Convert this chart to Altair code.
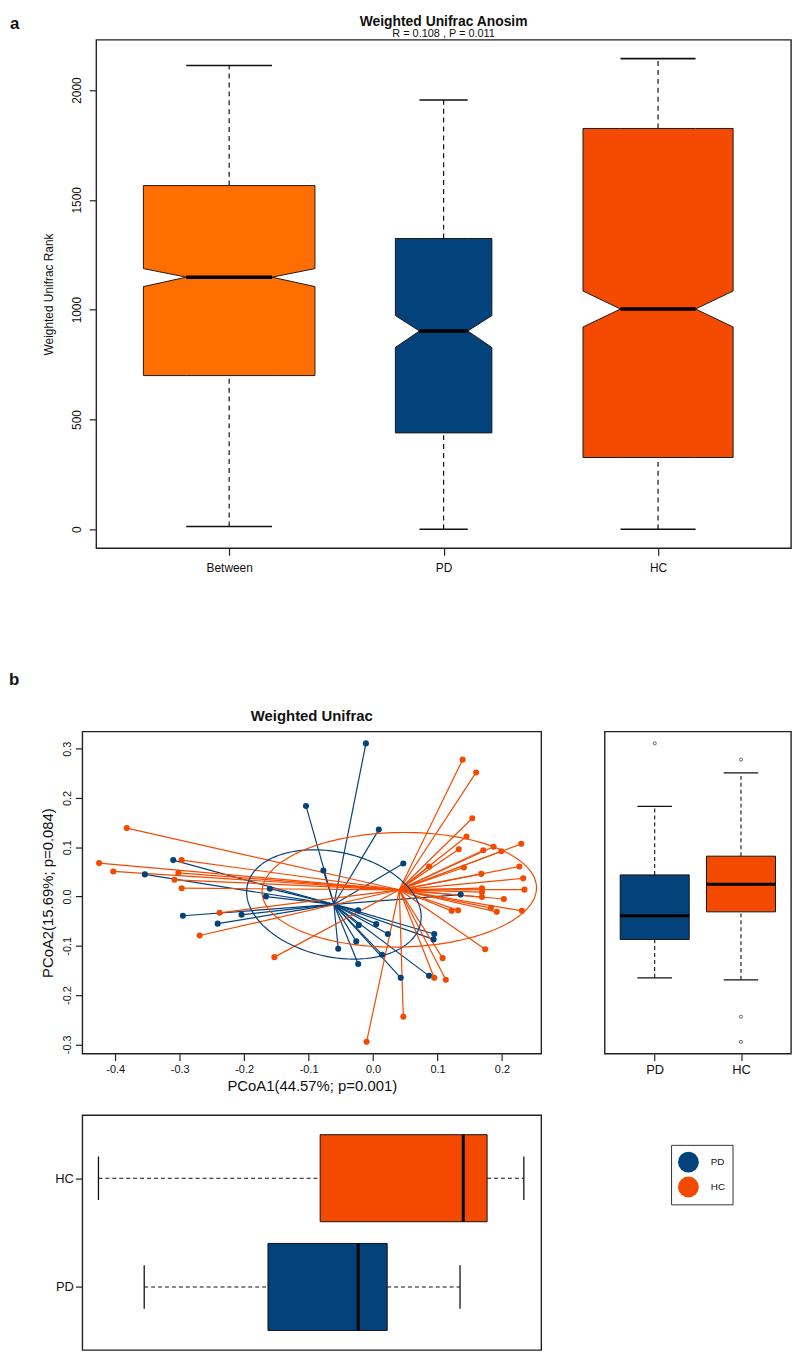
import altair as alt
import numpy as np
import pandas as pd

FONT = "Liberation Sans"
BLUE = "#04427B"
ORANGE_BETWEEN = "#FF6E00"
ORANGE_HC = "#F44A00"

# ---------------- panel a : Weighted Unifrac Anosim ----------------
a_groups = ["Between", "PD", "HC"]
a_pos = [1, 2, 3]
a_min = [13, 0, 0]
a_q1 = [700, 439, 327]
a_notch_lo = [1105, 828, 921]
a_median = [1148, 903, 1003]
a_notch_hi = [1187, 973, 1085]
a_q3 = [1565, 1324, 1825]
a_max = [2112, 1955, 2143]
a_boxwidth = [0.80, 0.45, 0.70]
a_colors = [ORANGE_BETWEEN, BLUE, ORANGE_HC]
a_yticks = [0, 500, 1000, 1500, 2000]
a_title = "Weighted Unifrac Anosim"
a_subtitle = "R =  0.108 ,  P =  0.011"

# ---------------- panel b : PCoA ----------------
b_title = "Weighted Unifrac"
b_groups = ["PD", "HC"]
b_colors = [BLUE, ORANGE_HC]
pd_x = [-0.354, -0.310, -0.104, -0.160, -0.166, -0.295, -0.204, -0.241, -0.011, 0.009,
        0.047, -0.077, 0.136, -0.023, 0.005, -0.022, 0.023, 0.095, 0.094, -0.026,
        -0.054, 0.014, -0.023, 0.043, 0.087]
pd_y = [0.045, 0.074, 0.184, 0.016, 0.000, -0.039, -0.037, -0.055, 0.311, 0.136,
        0.067, 0.053, 0.004, -0.028, -0.056, -0.058, -0.076, -0.076, -0.087, -0.091,
        -0.106, -0.118, -0.137, -0.165, -0.161]
hc_x = [-0.382, -0.425, -0.403, -0.297, -0.302, -0.308, -0.297, -0.238, -0.269, -0.153,
        0.139, 0.160, 0.154, 0.145, 0.133, 0.171, 0.187, 0.199, 0.230, 0.087,
        0.141, 0.168, 0.227, 0.233, 0.235, 0.169, 0.169, 0.169, 0.203, 0.122,
        0.132, 0.183, 0.192, 0.231, 0.095, 0.113, 0.108, 0.174, 0.047, -0.010]
hc_y = [0.139, 0.068, 0.051, 0.074, 0.048, 0.034, 0.017, -0.033, -0.079, -0.123,
        0.278, 0.252, 0.159, 0.122, 0.096, 0.094, 0.101, 0.092, 0.107, 0.061,
        0.059, 0.046, 0.061, 0.037, 0.014, 0.017, 0.009, -0.001, -0.005, -0.029,
        -0.028, -0.023, -0.031, -0.029, -0.165, -0.169, -0.125, -0.107, -0.244, -0.295]

# PCoA2 boxplot (right)
pc2_pos = [1, 2]
pc2_min = [-0.165, -0.169]
pc2_q1 = [-0.087, -0.031]
pc2_median = [-0.039, 0.025]
pc2_q3 = [0.044, 0.082]
pc2_max = [0.183, 0.251]
pc2_out_pos = [1, 2, 2, 2]
pc2_out_value = [0.311, 0.278, -0.244, -0.295]

# PCoA1 boxplot (bottom)
pc1_pos = [1, 2]
pc1_min = [-0.355, -0.426]
pc1_q1 = [-0.163, -0.082]
pc1_median = [-0.023, 0.140]
pc1_q3 = [0.022, 0.177]
pc1_max = [0.135, 0.234]

box_w = 0.8
x_ticks = [-0.4, -0.3, -0.2, -0.1, 0.0, 0.1, 0.2]
y_ticks = [-0.3, -0.2, -0.1, 0.0, 0.1, 0.2, 0.3]
X_DOMAIN = [-0.451, 0.261]
Y_DOMAIN = [-0.319, 0.335]
ELLIPSE_SD = 1.0

WA, HA = 701, 513     # panel a plot size
WB, HB = 463, 325     # scatter size
WR = 188              # right box width
HC_ = 237             # bottom box height
ONE = pd.DataFrame({"d": [0]})


def spacer_rule(x, x2, y, y2):
    """invisible rule, only used to reserve layout room"""
    return alt.Chart(ONE).mark_rule(opacity=0, strokeOpacity=0).encode(
        x=alt.value(x), x2=alt.value(x2), y=alt.value(y), y2=alt.value(y2))


def label(text, x, y, size, bold=True, align="left"):
    return alt.Chart(pd.DataFrame({"t": [text]})).mark_text(
        align=align, baseline="alphabetic", fontSize=size,
        fontWeight="bold" if bold else "normal", color="#111").encode(
        text="t:N", x=alt.value(x), y=alt.value(y))


# ---------------- build panel a ----------------
a_df = pd.DataFrame(dict(group=a_groups, pos=a_pos, lo=a_min, q1=a_q1, nlo=a_notch_lo,
                         med=a_median, nhi=a_notch_hi, q3=a_q3, hi=a_max, w=a_boxwidth))
a_df["cl"] = a_df.pos - a_df.w / 4
a_df["cr"] = a_df.pos + a_df.w / 4

halves = []
for _, s in a_df.iterrows():
    xs = [s.pos - s.w / 2, s.cl, s.cr, s.pos + s.w / 2]
    low_top = [s.nlo, s.med, s.med, s.nlo]
    up_bot = [s.nhi, s.med, s.med, s.nhi]
    for xv, t in zip(xs, low_top):
        halves.append(dict(group=s.group, part=s.group + "_lo", x=xv, y=s.q1, y2=t))
    for xv, b in zip(xs, up_bot):
        halves.append(dict(group=s.group, part=s.group + "_hi", x=xv, y=b, y2=s.q3))
halves = pd.DataFrame(halves)

wh = pd.concat([
    a_df.assign(y1=a_df.q3, y2=a_df.hi, cap=a_df.hi),
    a_df.assign(y1=a_df.lo, y2=a_df.q1, cap=a_df.lo)])

xs_a = alt.Scale(domain=[0.38, 3.62], nice=False, zero=False)
ys_a = alt.Scale(domain=[-86, 2229], nice=False, zero=False)
lab_a = "[" + ",".join("'%s'" % g for g in a_groups) + "][datum.value - 1]"

ax_a_x = alt.Axis(values=a_pos, labelExpr=lab_a, title=None, labelFontSize=12, labelPadding=8)
ax_a_y = alt.Axis(values=a_yticks, format="d", title="Weighted Unifrac Rank", labelAngle=270,
                  labelAlign="center", labelBaseline="bottom", labelFontSize=12,
                  labelPadding=6, titleFontSize=12, titlePadding=15)

whisk_a = alt.Chart(wh).mark_rule(color="#111", strokeWidth=1.2, strokeDash=[5, 4]).encode(
    x=alt.X("pos:Q", scale=xs_a, axis=ax_a_x),
    y=alt.Y("y1:Q", scale=ys_a, axis=ax_a_y),
    y2="y2:Q",
)
caps_a = alt.Chart(wh).mark_rule(color="#111", strokeWidth=1.6).encode(
    x="cl:Q", x2="cr:Q", y="cap:Q")
boxes_a = alt.Chart(halves).mark_area(stroke="#1a1a1a", strokeWidth=1, opacity=1,
                                      interpolate="linear").encode(
    x="x:Q",
    y=alt.Y("y:Q", stack=None),
    y2="y2:Q",
    fill=alt.Fill("group:N", scale=alt.Scale(domain=a_groups, range=a_colors), legend=None),
    detail="part:N",
)
med_a = alt.Chart(a_df).mark_rule(color="black", strokeWidth=3.5).encode(
    x="cl:Q", x2="cr:Q", y="med:Q")

panel_a = alt.layer(
    whisk_a, boxes_a, med_a, caps_a,
    label("a", -87, -11, 17),
    label(a_title, WA / 2, -14, 14, align="center"),
    label(a_subtitle, WA / 2, -3, 11, bold=False, align="center"),
    spacer_rule(0, 0, HA, HA + 40),
).properties(width=WA, height=HA)

spacer = alt.Chart(ONE).mark_rule(opacity=0, strokeOpacity=0).encode(
    x=alt.value(0), y=alt.value(0)).properties(
    width=1, height=1, view=alt.ViewBackground(stroke=None))

# ---------------- build panel b : scatter ----------------
pts = pd.DataFrame(dict(group=["PD"] * len(pd_x) + ["HC"] * len(hc_x),
                        x=pd_x + hc_x, y=pd_y + hc_y))
cent = pts.groupby("group")[["x", "y"]].mean().rename(columns={"x": "cx", "y": "cy"})
pts = pts.join(cent, on="group")

ell = []
for g in b_groups:
    sub = pts[pts.group == g]
    X = np.column_stack([sub.x.values, sub.y.values])
    mu = X.mean(axis=0)
    vals, vecs = np.linalg.eigh(np.cov(X, rowvar=False))
    t = np.linspace(0, 2 * np.pi, 181)
    circ = np.stack([np.cos(t), np.sin(t)])
    e = (vecs @ (np.sqrt(vals)[:, None] * circ)).T * ELLIPSE_SD + mu
    for k, (ex, ey) in enumerate(e):
        ell.append(dict(group=g, k=k, ex=ex, ey=ey))
ell = pd.DataFrame(ell)

cscale = alt.Scale(domain=b_groups, range=b_colors)
xs_b = alt.Scale(domain=X_DOMAIN, nice=False, zero=False)
ys_b = alt.Scale(domain=Y_DOMAIN, nice=False, zero=False)
num_expr = "datum.value < 0 ? '-' + format(-datum.value, '.1f') : format(datum.value, '.1f')"

ax_b_x = alt.Axis(values=x_ticks, labelExpr=num_expr, title="PCoA1(44.57%; p=0.001)",
                  labelFontSize=11, labelPadding=3, titleFontSize=15, titlePadding=4)
ax_b_y = alt.Axis(values=y_ticks, labelExpr=num_expr, title="PCoA2(15.69%; p=0.084)",
                  labelAngle=270, labelAlign="center", labelBaseline="bottom",
                  labelFontSize=11, labelPadding=3, titleFontSize=15, titlePadding=6)

spider = alt.Chart(pts).mark_rule(strokeWidth=1.2).encode(
    x=alt.X("x:Q", scale=xs_b, axis=ax_b_x),
    y=alt.Y("y:Q", scale=ys_b, axis=ax_b_y),
    x2="cx:Q", y2="cy:Q",
    color=alt.Color("group:N", scale=cscale, legend=None),
)
ellipse = alt.Chart(ell).mark_line(strokeWidth=1.2).encode(
    x="ex:Q", y="ey:Q", order="k:Q", detail="group:N",
    color=alt.Color("group:N", scale=cscale, legend=None),
)
dots = alt.Chart(pts).mark_circle(size=38, opacity=1).encode(
    x="x:Q", y="y:Q", color=alt.Color("group:N", scale=cscale, legend=None))

scatter = alt.layer(
    spider, ellipse, dots,
    label("b", -74, -47, 17),
    label(b_title, WB / 2, -11, 15, align="center"),
    spacer_rule(0, 0, -70, 0), spacer_rule(0, 0, HB, HB + 55),
).properties(width=WB, height=HB)

# ---------------- right box (PCoA2) ----------------
r_df = pd.DataFrame(dict(group=b_groups, pos=pc2_pos, lo=pc2_min, q1=pc2_q1, med=pc2_median,
                         q3=pc2_q3, hi=pc2_max))
r_df["l"] = r_df.pos - box_w / 2
r_df["r"] = r_df.pos + box_w / 2
r_df["cl"] = r_df.pos - box_w / 4
r_df["cr"] = r_df.pos + box_w / 4
r_wh = pd.concat([
    r_df.assign(y1=r_df.q3, y2=r_df.hi, cap=r_df.hi),
    r_df.assign(y1=r_df.lo, y2=r_df.q1, cap=r_df.lo)])
out_df = pd.DataFrame(dict(pos=pc2_out_pos, v=pc2_out_value))

xs_box = alt.Scale(domain=[0.42, 2.58], nice=False, zero=False)
lab_b = "[" + ",".join("'%s'" % g for g in b_groups) + "][datum.value - 1]"

r_whisk = alt.Chart(r_wh).mark_rule(color="#111", strokeWidth=1.1, strokeDash=[4, 3]).encode(
    x=alt.X("pos:Q", scale=xs_box,
            axis=alt.Axis(values=pc2_pos, labelExpr=lab_b, title=None, labelFontSize=13,
                          labelPadding=3)),
    y=alt.Y("y1:Q", scale=ys_b, axis=None), y2="y2:Q")
r_caps = alt.Chart(r_wh).mark_rule(color="#111", strokeWidth=1.3).encode(
    x="cl:Q", x2="cr:Q", y="cap:Q")
r_box = alt.Chart(r_df).mark_bar(stroke="#111", strokeWidth=1, opacity=1).encode(
    x="l:Q", x2="r:Q", y="q1:Q", y2="q3:Q",
    color=alt.Color("group:N", scale=cscale, legend=None))
r_med = alt.Chart(r_df).mark_rule(color="black", strokeWidth=3).encode(
    x="l:Q", x2="r:Q", y="med:Q")
r_out = alt.Chart(out_df).mark_point(shape="circle", size=10, filled=False, color="#222",
                                     strokeWidth=1).encode(x="pos:Q", y="v:Q")
right_box = alt.layer(
    r_whisk, r_box, r_med, r_caps, r_out, spacer_rule(0, 0, -70, 0)
).properties(width=WR, height=HB)

# ---------------- bottom box (PCoA1) ----------------
bt_df = pd.DataFrame(dict(group=b_groups, pos=pc1_pos, lo=pc1_min, q1=pc1_q1, med=pc1_median,
                          q3=pc1_q3, hi=pc1_max))
bt_df["b"] = bt_df.pos - box_w / 2
bt_df["t"] = bt_df.pos + box_w / 2
bt_df["cb"] = bt_df.pos - box_w / 4
bt_df["ct"] = bt_df.pos + box_w / 4
bt_wh = pd.concat([
    bt_df.assign(x1=bt_df.q3, x2=bt_df.hi, cap=bt_df.hi),
    bt_df.assign(x1=bt_df.lo, x2=bt_df.q1, cap=bt_df.lo)])

b_whisk = alt.Chart(bt_wh).mark_rule(color="#111", strokeWidth=1.1, strokeDash=[4, 3]).encode(
    y=alt.Y("pos:Q", scale=xs_box,
            axis=alt.Axis(values=pc1_pos, labelExpr=lab_b, title=None, labelFontSize=13,
                          labelPadding=2)),
    x=alt.X("x1:Q", scale=xs_b, axis=None), x2="x2:Q")
b_caps = alt.Chart(bt_wh).mark_rule(color="#111", strokeWidth=1.3).encode(
    y="cb:Q", y2="ct:Q", x="cap:Q")
b_box = alt.Chart(bt_df).mark_bar(stroke="#111", strokeWidth=1, opacity=1).encode(
    y="b:Q", y2="t:Q", x="q1:Q", x2="q3:Q",
    color=alt.Color("group:N", scale=cscale,
                    legend=alt.Legend(orient="none", legendX=594, legendY=30, title=None,
                                      symbolType="circle", symbolSize=441,
                                      symbolStrokeWidth=0, symbolOpacity=1,
                                      labelFontSize=10, labelOffset=12, padding=7,
                                      rowPadding=4, strokeColor="#333",
                                      fillColor="white", labelColor="#111")))
b_med = alt.Chart(bt_df).mark_rule(color="black", strokeWidth=3).encode(
    y="b:Q", y2="t:Q", x="med:Q")
bottom_box = alt.layer(b_whisk, b_box, b_med, b_caps).properties(width=WB, height=HC_)

# ---------------- assemble ----------------
row1 = alt.hconcat(spacer, panel_a, spacing=-75)
row2 = alt.hconcat(scatter, right_box, spacing=62).resolve_legend(color="independent")
lower = alt.vconcat(row2, bottom_box, spacing=5).resolve_legend(color="independent")
chart = alt.vconcat(row1, lower, spacing=73).resolve_legend(
    color="independent").properties(padding=0).configure(font=FONT).configure_view(
    stroke="#222222", strokeWidth=1.4).configure_axis(
    domain=False, grid=False, tickColor="#222", tickSize=7, tickWidth=1.2,
    labelColor="#111", titleColor="#111", labelFont=FONT, titleFont=FONT,
    titleFontWeight="normal")

chart.save("out.html", embed_options={"renderer": "svg", "actions": False})
